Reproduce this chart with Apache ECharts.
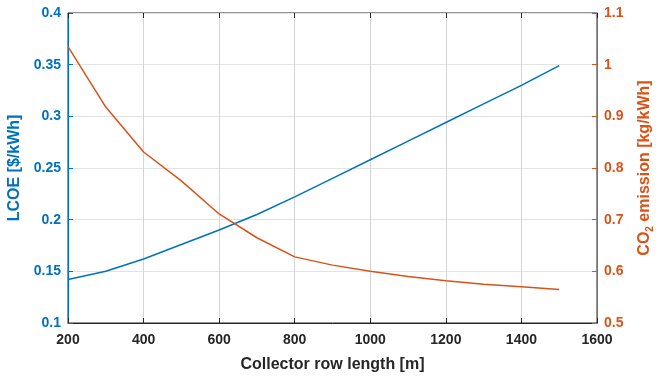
<!DOCTYPE html>
<html>
<head>
<meta charset="utf-8">
<script src="https://cdn.jsdelivr.net/npm/echarts@6/dist/echarts.min.js"></script>
<style>
  html, body { margin: 0; padding: 0; background: #fff; }
  #main { width: 657px; height: 381px; }
</style>
</head>
<body>
<div id="main"></div>
<script>
var rowLength = [200, 300, 400, 500, 600, 700, 800, 900, 1000, 1100, 1200, 1300, 1400, 1500];
var lcoe = [0.142, 0.150, 0.162, 0.176, 0.190, 0.205, 0.222, 0.240, 0.258, 0.276, 0.294, 0.312, 0.330, 0.349];
var co2 = [1.035, 0.918, 0.831, 0.775, 0.711, 0.665, 0.628, 0.612, 0.600, 0.590, 0.582, 0.575, 0.570, 0.565];

var blue = '#0072BD';
var orange = '#D95319';
var font = 'Liberation Sans, Arial, sans-serif';

var chart = echarts.init(document.getElementById('main'), null, { renderer: 'canvas' });

var option = {
    animation: false,
    grid: {
        left: 68, right: 60, top: 13, bottom: 58,
        containLabel: false,
        outerBoundsMode: 'none',
        show: true, borderColor: '#262626', borderWidth: 1
    },
    xAxis: [
        {
            type: 'value',
            min: 200, max: 1600, interval: 200,
            name: 'Collector row length [m]',
            nameLocation: 'middle',
            nameGap: 34,
            nameTextStyle: { color: '#262626', fontSize: 16, fontWeight: 'bold', fontFamily: font },
            axisLine: { lineStyle: { color: '#262626' } },
            axisTick: { inside: true, length: 5, lineStyle: { color: '#262626' } },
            axisLabel: {
                color: '#262626', fontSize: 14, fontWeight: 'bold', fontFamily: font, margin: 10,
                formatter: function (v) { return String(v); }
            },
            splitLine: { show: true, lineStyle: { color: '#d4d4d4' } }
        },
        {
            type: 'value',
            position: 'top',
            min: 200, max: 1600, interval: 200,
            axisLine: { show: false },
            axisTick: { inside: true, length: 5, lineStyle: { color: '#262626' } },
            axisLabel: { show: false },
            splitLine: { show: false }
        }
    ],
    yAxis: [
        {
            type: 'value',
            min: 0.1, max: 0.4, interval: 0.05,
            name: 'LCOE [$/kWh]',
            nameLocation: 'middle',
            nameGap: 41,
            nameTextStyle: { color: blue, fontSize: 16, fontWeight: 'bold', fontFamily: font },
            axisLine: { show: true, lineStyle: { color: blue } },
            axisTick: { show: true, inside: true, length: 5, lineStyle: { color: blue } },
            axisLabel: {
                color: blue, fontSize: 14, fontWeight: 'bold', fontFamily: font, margin: 7,
                formatter: function (v) { return String(Math.round(v * 100) / 100); }
            },
            splitLine: { show: true, lineStyle: { color: '#e3e3e3' } }
        },
        {
            type: 'value',
            position: 'right',
            min: 0.5, max: 1.1, interval: 0.1,
            name: 'CO{sub|2} emission [kg/kWh]',
            nameLocation: 'middle',
            nameGap: 38,
            nameRotate: 90,
            nameTextStyle: {
                color: orange, fontSize: 16, fontWeight: 'bold', fontFamily: font,
                rich: { sub: { color: orange, fontSize: 10, fontWeight: 'bold', fontFamily: font, verticalAlign: 'bottom', padding: [10, 0, 0, 0] } }
            },
            axisLine: { show: true, lineStyle: { color: orange } },
            axisTick: { show: true, inside: true, length: 5, lineStyle: { color: orange } },
            axisLabel: {
                color: orange, fontSize: 14, fontWeight: 'bold', fontFamily: font, margin: 7,
                formatter: function (v) { return String(Math.round(v * 10) / 10); }
            },
            splitLine: { show: false }
        }
    ],
    series: [
        {
            name: 'LCOE',
            type: 'line',
            yAxisIndex: 0,
            showSymbol: false,
            lineStyle: { color: blue, width: 1.5 },
            data: rowLength.map(function (x, i) { return [x, lcoe[i]]; })
        },
        {
            name: 'CO2',
            type: 'line',
            yAxisIndex: 1,
            showSymbol: false,
            lineStyle: { color: orange, width: 1.5 },
            data: rowLength.map(function (x, i) { return [x, co2[i]]; })
        }
    ]
};

chart.setOption(option);
window.addEventListener('resize', chart.resize);
</script>
</body>
</html>
